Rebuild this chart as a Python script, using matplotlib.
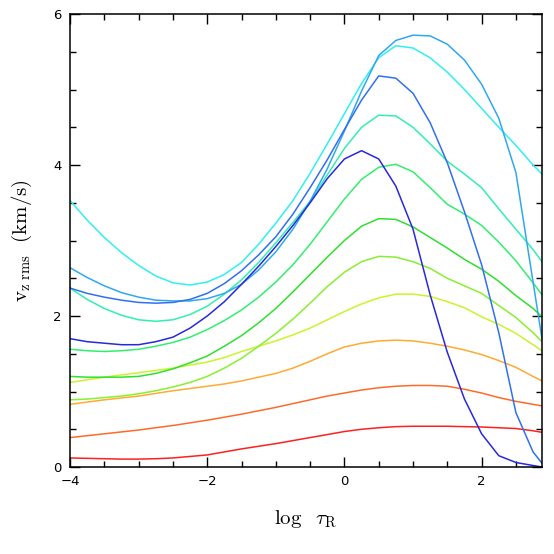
import matplotlib
matplotlib.use('Agg')
import matplotlib.pyplot as plt
from matplotlib.ticker import MultipleLocator

plt.rcParams['mathtext.fontset'] = 'cm'

# log tau_R grid
log_tau = [-4, -3.75, -3.5, -3.25, -3, -2.75, -2.5, -2.25, -2, -1.75, -1.5, -1.25,
           -1, -0.75, -0.5, -0.25, 0, 0.25, 0.5, 0.75, 1, 1.25, 1.5, 1.75, 2,
           2.25, 2.5, 2.75, 2.88]

# v_z rms (km/s), one curve per model, bottom (red) to top (blue)
v_red = [0.12, 0.115, 0.11, 0.105, 0.105, 0.11, 0.12, 0.14, 0.16, 0.20, 0.24, 0.275,
         0.31, 0.35, 0.39, 0.43, 0.47, 0.50, 0.52, 0.535, 0.54, 0.54, 0.54, 0.535, 0.53,
         0.52, 0.51, 0.48, 0.46]
v_orred = [0.39, 0.415, 0.44, 0.465, 0.49, 0.52, 0.55, 0.585, 0.62, 0.66, 0.70, 0.745,
           0.79, 0.84, 0.89, 0.94, 0.98, 1.02, 1.05, 1.07, 1.08, 1.08, 1.07, 1.03, 0.98,
           0.92, 0.87, 0.83, 0.81]
v_orange = [0.83, 0.86, 0.89, 0.915, 0.94, 0.975, 1.01, 1.04, 1.07, 1.10, 1.14, 1.19,
            1.24, 1.31, 1.40, 1.50, 1.59, 1.64, 1.67, 1.68, 1.67, 1.64, 1.60, 1.55, 1.49,
            1.41, 1.32, 1.20, 1.14]
v_yg = [1.12, 1.155, 1.19, 1.22, 1.25, 1.28, 1.31, 1.35, 1.39, 1.45, 1.53, 1.60,
        1.67, 1.75, 1.84, 1.95, 2.06, 2.16, 2.24, 2.29, 2.29, 2.26, 2.19, 2.11, 1.99,
        1.89, 1.77, 1.62, 1.54]
v_lime = [0.89, 0.90, 0.92, 0.94, 0.97, 1.01, 1.06, 1.12, 1.20, 1.31, 1.44, 1.60,
          1.77, 1.96, 2.17, 2.39, 2.58, 2.72, 2.79, 2.78, 2.72, 2.63, 2.50, 2.40, 2.30,
          2.14, 1.98, 1.78, 1.66]
v_greenb = [1.20, 1.19, 1.19, 1.19, 1.20, 1.24, 1.30, 1.38, 1.47, 1.60, 1.74, 1.91,
            2.10, 2.32, 2.55, 2.78, 3.00, 3.19, 3.29, 3.28, 3.18, 3.04, 2.90, 2.75, 2.62,
            2.46, 2.27, 2.10, 1.99]
v_greena = [1.56, 1.54, 1.53, 1.54, 1.56, 1.60, 1.65, 1.72, 1.82, 1.94, 2.08, 2.25,
            2.45, 2.68, 2.95, 3.25, 3.55, 3.81, 3.97, 4.01, 3.91, 3.70, 3.48, 3.35, 3.20,
            2.98, 2.73, 2.44, 2.28]
v_aqua = [2.37, 2.22, 2.10, 2.01, 1.95, 1.93, 1.95, 2.02, 2.13, 2.29, 2.48, 2.71,
          2.97, 3.24, 3.52, 3.87, 4.22, 4.50, 4.66, 4.65, 4.50, 4.28, 4.05, 3.88, 3.70,
          3.42, 3.15, 2.88, 2.72]
v_cyan = [3.53, 3.27, 3.04, 2.84, 2.67, 2.53, 2.44, 2.41, 2.45, 2.55, 2.71, 2.95,
          3.23, 3.53, 3.89, 4.28, 4.68, 5.08, 5.42, 5.58, 5.55, 5.42, 5.23, 5.00, 4.75,
          4.50, 4.26, 4.00, 3.88]
v_sky = [2.64, 2.51, 2.40, 2.31, 2.25, 2.21, 2.20, 2.20, 2.23, 2.30, 2.42, 2.61,
         2.85, 3.15, 3.52, 3.95, 4.45, 4.98, 5.45, 5.65, 5.72, 5.71, 5.60, 5.39, 5.07,
         4.62, 3.90, 2.45, 1.70]
v_blue = [2.37, 2.30, 2.25, 2.21, 2.18, 2.17, 2.18, 2.22, 2.30, 2.43, 2.60, 2.81,
          3.05, 3.35, 3.70, 4.07, 4.47, 4.86, 5.18, 5.15, 4.95, 4.56, 4.03, 3.38, 2.68,
          1.78, 0.72, 0.20, 0.05]
v_dblue = [1.70, 1.66, 1.64, 1.62, 1.62, 1.66, 1.72, 1.84, 2.00, 2.19, 2.42, 2.66,
           2.92, 3.20, 3.50, 3.82, 4.08, 4.19, 4.08, 3.72, 3.15, 2.28, 1.52, 0.90, 0.44,
           0.15, 0.06, 0.02, 0.0]

curves = [v_red, v_orred, v_orange, v_yg, v_lime, v_greenb, v_greena,
          v_aqua, v_cyan, v_sky, v_blue, v_dblue]
colors = ['#ff2020', '#ff6a2a', '#ffaa33', '#c8f52a', '#88f030', '#30e030',
          '#30f070', '#30f0b0', '#30f0f0', '#30a8f0', '#3070f0', '#2828e0']

fig = plt.figure(figsize=(5.54, 5.54), dpi=100)
ax = fig.add_axes([0.1264, 0.157, 0.8519, 0.8177])

for v, c in zip(curves, colors):
    ax.plot(log_tau, v, color=c, lw=1.1)

ax.set_xlim(-4, 2.88)
ax.set_ylim(0, 6)
ax.xaxis.set_major_locator(MultipleLocator(2))
ax.xaxis.set_minor_locator(MultipleLocator(0.5))
ax.yaxis.set_major_locator(MultipleLocator(2))
ax.yaxis.set_minor_locator(MultipleLocator(0.5))
ax.tick_params(which='both', direction='in', top=True, right=True, width=1.0,
               labelsize=9.5, pad=6)
ax.tick_params(which='major', length=7)
ax.tick_params(which='minor', length=4)
for s in ax.spines.values():
    s.set_linewidth(1.1)

ax.set_xlabel(r'$\log\ \ \tau_{\rm R}$', fontsize=15, labelpad=14)
ax.set_ylabel(r'$\rm v_{z\ rms}\ \ (km/s)$', fontsize=15, labelpad=14)

fig.savefig('out.png', dpi=100)
